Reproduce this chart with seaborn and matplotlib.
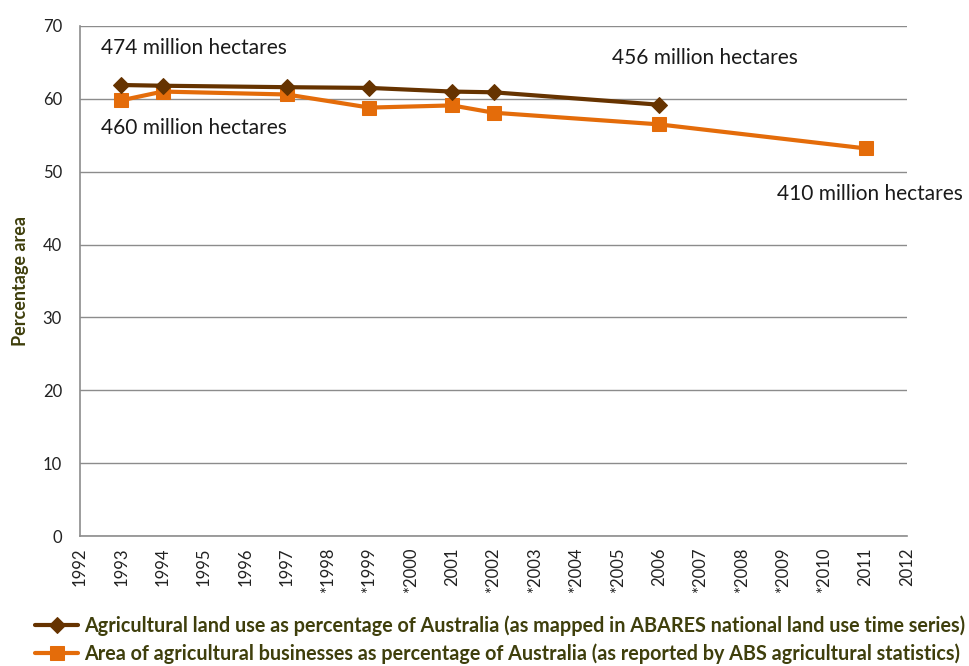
import matplotlib
matplotlib.use("Agg")
import matplotlib.pyplot as plt
import seaborn as sns
import pandas as pd
from matplotlib import font_manager

# Category axis labels (asterisk marks years without a survey)
tick_years = list(range(1992, 2013))
starred = {1998, 1999, 2000, 2002, 2003, 2004, 2005, 2007, 2008, 2009, 2010}
tick_labels = [("*" + str(y)) if y in starred else str(y) for y in tick_years]

# ABARES land use time series
abares_years = [1993, 1994, 1997, 1999, 2001, 2002, 2006]
abares_pct = [61.9, 61.8, 61.6, 61.5, 61.0, 60.9, 59.2]

# ABS agricultural statistics
abs_years = [1993, 1994, 1997, 1999, 2001, 2002, 2006, 2011]
abs_pct = [59.8, 61.0, 60.6, 58.8, 59.1, 58.1, 56.5, 53.2]

label_abares = "Agricultural land use as percentage of Australia (as mapped in ABARES national land use time series)"
label_abs = "Area of agricultural businesses as percentage of Australia (as reported by ABS agricultural statistics)"

sns.set_style("white")
names = {f.name for f in font_manager.fontManager.ttflist}
base_font = "Lato" if "Lato" in names else "DejaVu Sans"
plt.rcParams["font.family"] = [base_font, "DejaVu Sans"]

BROWN = "#663300"
ORANGE = "#E46C0A"
OLIVE = "#3F3F0C"
GRID = "#8C8C8C"

df_abares = pd.DataFrame({"year": abares_years, "pct": abares_pct})
df_abs = pd.DataFrame({"year": abs_years, "pct": abs_pct})

fig = plt.figure(figsize=(9.69, 6.66), dpi=100)
ax = fig.add_axes([0.0826, 0.195, 0.8534, 0.766])

sns.lineplot(data=df_abares, x="year", y="pct", ax=ax, color=BROWN, linewidth=3,
             marker="D", markersize=8.5, markeredgecolor=BROWN, label=label_abares, zorder=4)
sns.lineplot(data=df_abs, x="year", y="pct", ax=ax, color=ORANGE, linewidth=3,
             marker="s", markersize=10, markeredgecolor=ORANGE, label=label_abs, zorder=3)

ax.set_xlim(1992, 2012)
ax.set_ylim(0, 70)
ax.set_yticks(range(0, 71, 10))
ax.set_xticks(tick_years)
ax.set_xticklabels(tick_labels, rotation=90, fontsize=12, color="#222222")
ax.tick_params(axis="y", labelsize=12, colors="#222222", length=0, pad=13)
ax.tick_params(axis="x", length=4, width=1, color=GRID, direction="out", pad=4)
ax.yaxis.grid(True, color=GRID, linewidth=1)
ax.xaxis.grid(False)
for side in ("top", "right"):
    ax.spines[side].set_visible(False)
for side in ("left", "bottom"):
    ax.spines[side].set_color(GRID)
    ax.spines[side].set_linewidth(1.2)
ax.set_xlabel("")
ax.set_ylabel("Percentage area", fontsize=13, fontweight="bold", color=OLIVE, labelpad=10)

# Area annotations
ann_kw = dict(fontsize=15, color="#1a1a1a", transform=ax.transData)
ax.text(1992.5, 67.0, "474 million hectares", va="center", ha="left", **ann_kw)
ax.text(1992.5, 56.0, "460 million hectares", va="center", ha="left", **ann_kw)
ax.text(2004.87, 65.6, "456 million hectares", va="center", ha="left", **ann_kw)
ax.text(2008.86, 46.9, "410 million hectares", va="center", ha="left", clip_on=False, **ann_kw)

ax.get_legend().remove()
handles, labels = ax.get_legend_handles_labels()
fig.legend(handles, labels, loc="upper left", bbox_to_anchor=(0.036, 0.076),
           frameon=False, handlelength=2.2, handletextpad=0.3, labelspacing=0.38,
           borderaxespad=0, borderpad=0,
           prop={"family": base_font, "weight": "bold", "size": 14.2}, labelcolor=OLIVE)

fig.savefig("out.png", dpi=100)
